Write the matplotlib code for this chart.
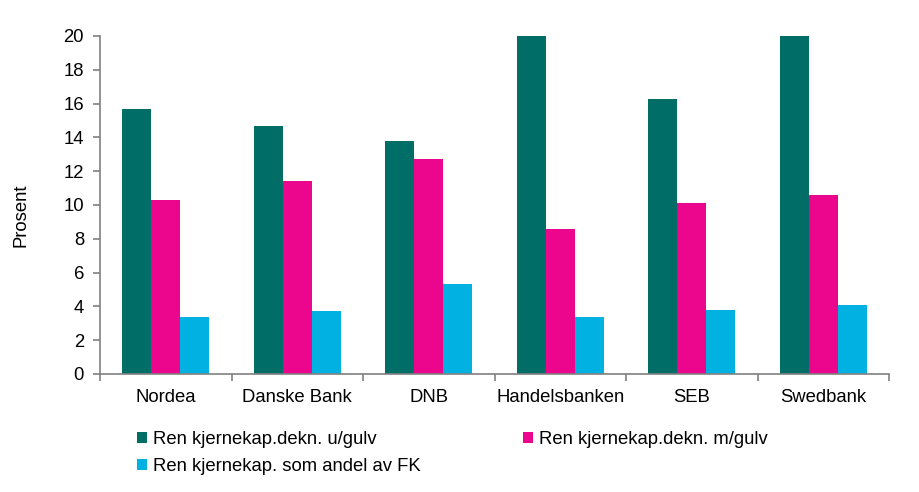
import matplotlib
matplotlib.use("Agg")
import matplotlib.pyplot as plt
import numpy as np

plt.rcParams['font.family'] = ['Liberation Sans', 'DejaVu Sans']

banks = ["Nordea", "Danske Bank", "DNB", "Handelsbanken", "SEB", "Swedbank"]
series_names = ["Ren kjernekap.dekn. u/gulv", "Ren kjernekap.dekn. m/gulv",
                "Ren kjernekap. som andel av FK"]
u_gulv = [15.7, 14.7, 13.8, 20.0, 16.3, 20.0]
m_gulv = [10.3, 11.4, 12.7, 8.6, 10.1, 10.6]
andel_fk = [3.4, 3.7, 5.3, 3.4, 3.8, 4.1]
colors = ["#006E67", "#EC068D", "#00B1E1"]
yticks = [0, 2, 4, 6, 8, 10, 12, 14, 16, 18, 20]

FS = 13.3
W, H = 919, 492
fig = plt.figure(figsize=(W/100, H/100), dpi=100)
ax = fig.add_axes([100/W, 1-374/H, (889-100)/W, (374-36)/H])

x = np.arange(len(banks))
bw = 0.22
handles = []
for i, (vals, c, name) in enumerate(zip([u_gulv, m_gulv, andel_fk], colors, series_names)):
    h = ax.bar(x + (i-1)*bw, vals, width=bw, color=c, label=name, zorder=2)
    handles.append(h)

ax.set_xlim(-0.5, len(banks)-0.5)
ax.set_ylim(0, 20)
ax.set_yticks(yticks)
ax.set_yticklabels([str(t) for t in yticks], fontsize=FS)
ax.set_xticks(x)
ax.set_xticklabels(banks, fontsize=FS)
ax.set_xticks(np.arange(len(banks)+1)-0.5, minor=True)
ax.tick_params(axis='x', which='major', length=0, pad=10.5)
ax.tick_params(axis='x', which='minor', length=5, color='#808080', width=1.2)
ax.tick_params(axis='y', length=5, color='#808080', width=1.2, pad=6.5)
for s in ['top', 'right']:
    ax.spines[s].set_visible(False)
for s in ['left', 'bottom']:
    ax.spines[s].set_color('#808080')
    ax.spines[s].set_linewidth(1.2)
ax.set_ylabel("Prosent", fontsize=FS)
ax.yaxis.set_label_coords((30-100)/789, (374-215)/338)

common = dict(frameon=False, fontsize=FS, handlelength=0.55, handleheight=0.55,
              handletextpad=0.3, labelspacing=0.55, borderaxespad=0, borderpad=0)
fig.legend([handles[0], handles[2]], [series_names[0], series_names[2]],
           loc='upper left', bbox_to_anchor=(137/W, 1-431/H), **common)
fig.legend([handles[1]], [series_names[1]],
           loc='upper left', bbox_to_anchor=(523/W, 1-431/H), **common)

fig.savefig("out.png", dpi=100)
